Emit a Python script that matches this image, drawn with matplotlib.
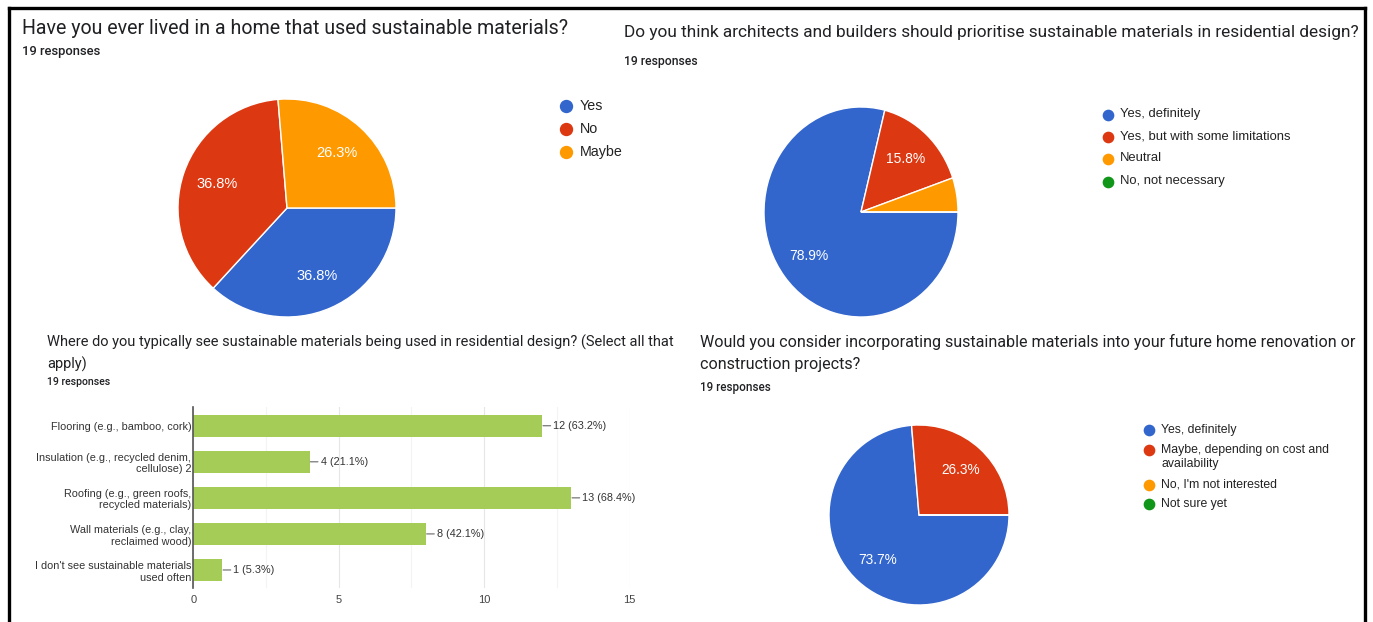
import matplotlib
matplotlib.use("Agg")
import matplotlib.pyplot as plt
from matplotlib.lines import Line2D

# ---------------- data ----------------
q1_title = "Have you ever lived in a home that used sustainable materials?"
q1_labels = ["Yes", "No", "Maybe"]
q1_counts = [7, 7, 5]

q2_title = "Do you think architects and builders should prioritise sustainable materials in residential design?"
q2_labels = ["Yes, definitely", "Yes, but with some limitations", "Neutral", "No, not necessary"]
q2_counts = [15, 3, 1, 0]

q3_title = ["Where do you typically see sustainable materials being used in residential design? (Select all that",
            "apply)"]
q3_categories = ["Flooring (e.g., bamboo, cork)",
                 "Insulation (e.g., recycled denim,\ncellulose) 2",
                 "Roofing (e.g., green roofs,\nrecycled materials)",
                 "Wall materials (e.g., clay,\nreclaimed wood)",
                 "I don't see sustainable materials\nused often"]
q3_counts = [12, 4, 13, 8, 1]
q3_ticks = [0, 5, 10, 15]

q4_title = ["Would you consider incorporating sustainable materials into your future home renovation or",
            "construction projects?"]
q4_labels = ["Yes, definitely", "Maybe, depending on cost and\navailability", "No, I'm not interested", "Not sure yet"]
q4_counts = [14, 5, 0, 0]

n_responses = 19
responses_text = f"{n_responses} responses"

pie_colors = ["#3366cc", "#dc3912", "#ff9900", "#109618"]
bar_color = "#a6cc58"

# ---------------- figure ----------------
W, H = 1373, 622
fig = plt.figure(figsize=(W / 100, H / 100), dpi=100)
fig.patch.set_facecolor("white")

TITLE_FONT = "Roboto"
CHART_FONT = ["Liberation Sans", "DejaVu Sans"]


def fx(x):
    return x / W


def fy(y):
    return 1 - y / H


def ftext(x, y, s, size, color="#202124", ha="left", va="center", weight="normal", family=TITLE_FONT):
    fig.text(fx(x), fy(y), s, fontsize=size, color=color, ha=ha, va=va,
             fontweight=weight, family=family)


def pie_axes(cx, cy, rx, ry, counts, pctdist, label_size):
    ax = fig.add_axes([fx(cx - rx), fy(cy + ry), 2 * rx / W, 2 * ry / H])

    def fmt(p):
        return f"{p:.1f}%" if p >= 10 else ""

    ax.pie(counts, colors=pie_colors[:len(counts)], startangle=0, counterclock=False,
           autopct=fmt, pctdistance=pctdist, radius=1,
           wedgeprops=dict(edgecolor="white", linewidth=1.0),
           textprops=dict(color="white", fontsize=label_size, family=CHART_FONT))
    ax.set_aspect("auto")
    ax.set_xlim(-1.0, 1.0)
    ax.set_ylim(-1.0, 1.0)
    ax.axis("off")
    return ax


def legend(x, ys, labels, size, msize, text_dx=12):
    for lab, col, y in zip(labels, pie_colors, ys):
        fig.add_artist(Line2D([fx(x)], [fy(y)], marker="o", markersize=msize,
                              color=col, linestyle="none", transform=fig.transFigure))
        first_line_offset = size * 1.39 * 0.5
        fig.text(fx(x + text_dx), fy(y - first_line_offset), lab, fontsize=size,
                 color="#222222", ha="left", va="top", family=CHART_FONT,
                 linespacing=1.2)


# ---------- Q1 ----------
ftext(22, 28, q1_title, 14.1)
ftext(22, 52, responses_text, 9.4, weight="medium")
pie_axes(287, 208, 109, 109, q1_counts, 0.68, 10.5)
legend(566, [106, 129, 152], q1_labels, 10.3, 8.6, text_dx=14)

# ---------- Q2 ----------
ftext(624, 33, q2_title, 12.45)
ftext(624, 62, responses_text, 8.8, weight="medium")
pie_axes(861, 212, 97, 105, q2_counts, 0.68, 10.0)
legend(1108, [115, 137, 159, 182], q2_labels, 9.4, 7.4, text_dx=12)

# ---------- Q3 ----------
ftext(47, 342, q3_title[0], 10.5)
ftext(47, 364, q3_title[1], 10.5)
ftext(47, 382, responses_text, 7.6, weight="medium")

bx0, bx1 = 193.3, 629.5
by0, by1 = 407, 588
axb = fig.add_axes([fx(bx0), fy(by1), (bx1 - bx0) / W, (by1 - by0) / H])
ypos = list(range(len(q3_counts)))
axb.barh(ypos, q3_counts, height=0.62, color=bar_color, zorder=2)
axb.set_xlim(0, 15)
axb.set_ylim(len(q3_counts) - 0.5, -0.52)
axb.set_xticks(q3_ticks)
axb.set_xticklabels([str(t) for t in q3_ticks], fontsize=8, color="#444444", family=CHART_FONT)
axb.set_xticks([2.5, 7.5, 12.5], minor=True)
axb.set_yticks(ypos)
axb.set_yticklabels(q3_categories, fontsize=7.8, color="#333333", family=CHART_FONT,
                    linespacing=1.2)
axb.tick_params(axis="both", length=0, pad=5)
axb.tick_params(axis="y", pad=1.5)
axb.tick_params(axis="x", which="minor", length=0)
axb.grid(axis="x", which="major", color="#e6e6e6", linewidth=0.8, zorder=0)
axb.grid(axis="x", which="minor", color="#f3f3f3", linewidth=0.8, zorder=0)
for s in ["top", "right", "bottom"]:
    axb.spines[s].set_visible(False)
axb.spines["left"].set_color("#555555")
axb.spines["left"].set_linewidth(1.2)
axb.spines["left"].set_zorder(3)
for yv, cnt in zip(ypos, q3_counts):
    pct = cnt / n_responses * 100
    axb.annotate(f"{cnt} ({pct:.1f}%)", xy=(cnt, yv), xytext=(8, 0),
                 textcoords="offset points", va="center", ha="left",
                 fontsize=7.8, color="#333333", family=CHART_FONT,
                 arrowprops=dict(arrowstyle="-", color="#666666", lw=0.8,
                                 shrinkA=0, shrinkB=0.5))

# ---------- Q4 ----------
ftext(700, 342, q4_title[0], 11.6)
ftext(700, 365, q4_title[1], 11.6)
ftext(700, 387, responses_text, 8.4, weight="medium")
pie_axes(919, 515, 90, 90, q4_counts, 0.68, 9.8)
legend(1149, [430, 450, 485, 504], q4_labels, 8.8, 7.4, text_dx=12)

# ---------- frame ----------
for xs, ys in [([9, 9], [8, H + 5]), ([1365, 1365], [8, H + 5]), ([9, 1365], [8, 8])]:
    fig.add_artist(Line2D([fx(v) for v in xs], [fy(v) for v in ys], color="black",
                          linewidth=2.4, transform=fig.transFigure))

fig.savefig("out.png", dpi=100, facecolor="white")
